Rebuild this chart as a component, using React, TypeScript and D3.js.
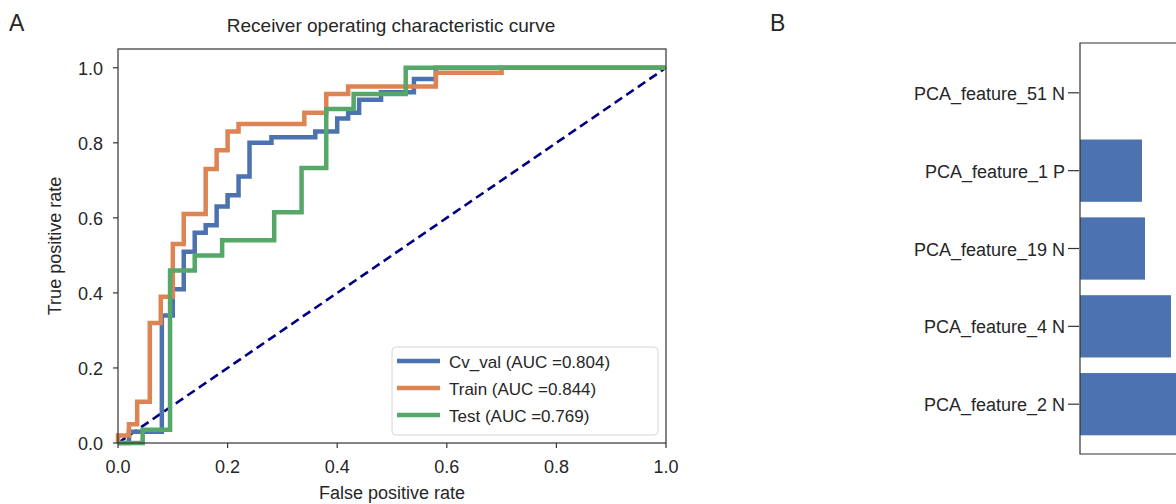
import React from 'react';
import * as d3 from 'd3';

// ROC points (fpr, tpr)
const cvFpr = [0, 0.02, 0.02, 0.08, 0.08, 0.10, 0.10, 0.12, 0.12, 0.14, 0.14, 0.16, 0.16, 0.18, 0.18, 0.20, 0.20, 0.22, 0.22, 0.24, 0.24, 0.28, 0.28, 0.36, 0.36, 0.40, 0.40, 0.42, 0.42, 0.44, 0.44, 0.48, 0.48, 0.54, 0.54, 0.58, 0.58, 1];
const cvTpr = [0, 0, 0.03, 0.03, 0.34, 0.34, 0.41, 0.41, 0.51, 0.51, 0.56, 0.56, 0.58, 0.58, 0.63, 0.63, 0.66, 0.66, 0.71, 0.71, 0.80, 0.80, 0.815, 0.815, 0.83, 0.83, 0.865, 0.865, 0.88, 0.88, 0.915, 0.915, 0.935, 0.935, 0.97, 0.97, 1, 1];

const trainFpr = [0, 0, 0.02, 0.02, 0.035, 0.035, 0.058, 0.058, 0.078, 0.078, 0.10, 0.10, 0.12, 0.12, 0.16, 0.16, 0.18, 0.18, 0.20, 0.20, 0.22, 0.22, 0.34, 0.34, 0.38, 0.38, 0.42, 0.42, 0.58, 0.58, 0.70, 0.70, 1];
const trainTpr = [0, 0.02, 0.02, 0.05, 0.05, 0.11, 0.11, 0.32, 0.32, 0.39, 0.39, 0.53, 0.53, 0.61, 0.61, 0.73, 0.73, 0.78, 0.78, 0.83, 0.83, 0.85, 0.85, 0.88, 0.88, 0.93, 0.93, 0.95, 0.95, 0.987, 0.987, 1, 1];

const testFpr = [0, 0.045, 0.045, 0.095, 0.095, 0.14, 0.14, 0.19, 0.19, 0.285, 0.285, 0.335, 0.335, 0.38, 0.38, 0.43, 0.43, 0.525, 0.525, 1];
const testTpr = [0, 0, 0.035, 0.035, 0.46, 0.46, 0.50, 0.50, 0.54, 0.54, 0.615, 0.615, 0.733, 0.733, 0.89, 0.89, 0.93, 0.93, 1, 1];

const seriesNames = ['Cv_val (AUC =0.804)', 'Train (AUC =0.844)', 'Test (AUC =0.769)'];
const seriesColors = ['#4c72b0', '#dd8452', '#55a868'];

const axisTicks = [0, 0.2, 0.4, 0.6, 0.8, 1.0];

// panel B
const features = ['PCA_feature_51 N', 'PCA_feature_1 P', 'PCA_feature_19 N', 'PCA_feature_4 N', 'PCA_feature_2 N'];
const importance = [0, 0.031, 0.0325, 0.0455, 0.06];

const FONT = '"Liberation Sans", Arial, sans-serif';
const TXT = '#262626';
const SPINE = '#333';
const FS = 18;

export default function App() {
  const x = d3.scaleLinear().domain([0, 1]).range([118, 666]);
  const y = d3.scaleLinear().domain([0, 1.05]).range([443, 49]);
  const line = d3.line<[number, number]>().x(d => x(d[0])).y(d => y(d[1]));

  const curves = [
    d3.zip(cvFpr, cvTpr),
    d3.zip(trainFpr, trainTpr),
    d3.zip(testFpr, testTpr),
  ] as [number, number][][];

  const xb = d3.scaleLinear().domain([0, 0.1]).range([1080, 1280]);
  const yb = d3.scaleLinear().domain([-0.64, 4.64]).range([43, 454]);

  return (
    <svg width={1176} height={504} style={{ position: 'absolute', left: 0, top: 0, background: '#fff' }}
      fontFamily={FONT}>
      <rect width={1176} height={504} fill="#fff" />
      <text x={9} y={31} fontSize={23} fill={TXT}>A</text>
      <text x={391} y={32} fontSize={19} textAnchor="middle" fill={TXT}>Receiver operating characteristic curve</text>

      {/* diagonal */}
      <line x1={x(0)} y1={y(0)} x2={x(1)} y2={y(1)} stroke="#000080" strokeWidth={2.6} strokeDasharray="9,5" />

      {curves.map((c, i) => (
        <path key={i} d={line(c) || ''} fill="none" stroke={seriesColors[i]} strokeWidth={4.5}
          strokeLinejoin="miter" />
      ))}

      {/* frame */}
      <rect x={x(0)} y={y(1.05)} width={x(1) - x(0)} height={y(0) - y(1.05)} fill="none" stroke={SPINE} strokeWidth={1.2} />

      {axisTicks.map(t => (
        <g key={'x' + t}>
          <line x1={x(t)} x2={x(t)} y1={y(0)} y2={y(0) + 5} stroke={SPINE} strokeWidth={1.2} />
          <text x={x(t)} y={y(0) + 30} fontSize={FS} textAnchor="middle" fill={TXT}>{t.toFixed(1)}</text>
        </g>
      ))}
      {axisTicks.map(t => (
        <g key={'y' + t}>
          <line x1={x(0) - 5} x2={x(0)} y1={y(t)} y2={y(t)} stroke={SPINE} strokeWidth={1.2} />
          <text x={x(0) - 15} y={y(t) + 7} fontSize={FS} textAnchor="end" fill={TXT}>{t.toFixed(1)}</text>
        </g>
      ))}
      <text x={392} y={499} fontSize={FS} textAnchor="middle" fill={TXT}>False positive rate</text>
      <text transform={`translate(61,${246}) rotate(-90)`} fontSize={FS} textAnchor="middle" fill={TXT}>True positive rate</text>

      {/* legend */}
      <rect x={392} y={347} width={266} height={88} rx={4} fill="#fff" fillOpacity={0.85} stroke="#d6d6d6" strokeWidth={1} />
      {seriesNames.map((n, i) => (
        <g key={n} transform={`translate(0,${361 + i * 27})`}>
          <line x1={397} x2={440} y1={0} y2={0} stroke={seriesColors[i]} strokeWidth={4.5} />
          <text x={449} y={6.5} fontSize={17} fill={TXT}>{n}</text>
        </g>
      ))}

      {/* panel B */}
      <text x={770} y={31} fontSize={23} fill={TXT}>B</text>
      {features.map((f, i) => (
        <g key={f}>
          {importance[i] > 0 && (
            <rect x={xb(0)} y={yb(i - 0.4)} width={xb(importance[i]) - xb(0)} height={yb(i + 0.4) - yb(i - 0.4)}
              fill="#4c72b0" />
          )}
          <line x1={1068} x2={1079} y1={yb(i)} y2={yb(i)} stroke={SPINE} strokeWidth={1.2} />
          <text x={1065} y={yb(i) + 7} fontSize={FS} textAnchor="end" fill={TXT}>{f}</text>
        </g>
      ))}
      <path d={`M1200,${yb(-0.64)}H${xb(0)}V${yb(4.64)}H1200`} fill="none" stroke={SPINE} strokeWidth={1.2} />
    </svg>
  );
}
